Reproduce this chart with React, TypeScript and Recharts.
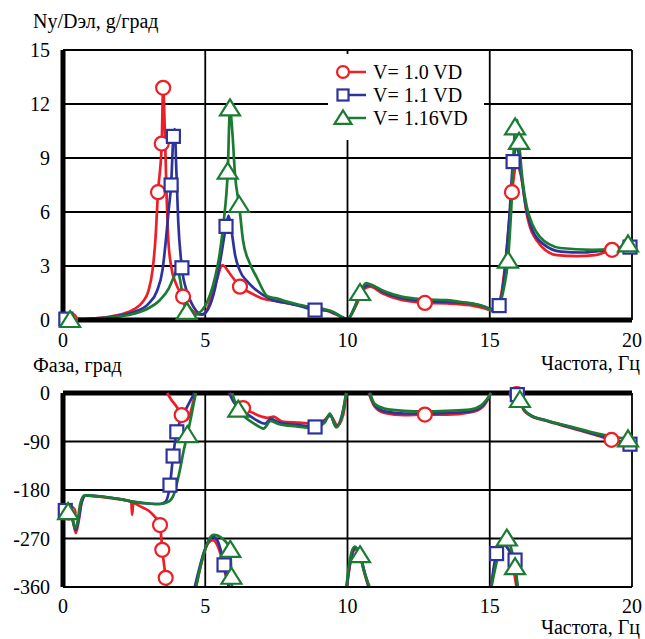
import { LineChart, Line, XAxis, YAxis, CartesianGrid, ReferenceLine, Legend } from 'recharts';

// [frequency Hz, value, marker?]
type Pt = [number, number | null, number?];

const freqTicks = [0, 5, 10, 15, 20];
const ampTicks = [0, 3, 6, 9, 12, 15];
const phaseTicks = [-360, -270, -180, -90, 0];

const seriesNames = ['V= 1.0 VD', 'V= 1.1 VD', 'V= 1.16VD'];
const seriesColors = ['#ec1f27', '#2d339c', '#1b7b33'];
const seriesShapes = ['circle', 'square', 'triangle'];

// Ny/Dэл, g/град
const amp10: Pt[] = [
  [0, 0.02], [0.25, 0, 1], [1, 0.08], [1.5, 0.15], [2, 0.3], [2.5, 0.6], [2.8, 1.0], [3.0, 1.6], [3.15, 2.8],
  [3.25, 4.5], [3.34, 7.1, 1], [3.47, 9.8, 1], [3.52, 12.9, 1], [3.58, 10.5], [3.64, 7], [3.7, 4.5], [3.8, 3.0],
  [3.95, 2.1], [4.22, 1.3, 1], [4.5, 0.6], [4.8, 0.3], [5.0, 0.4], [5.2, 1.2], [5.4, 2.2], [5.6, 3.05], [5.9, 2.5],
  [6.22, 1.85, 1], [6.6, 1.5], [7.0, 1.2], [7.5, 1.05], [8.0, 0.9], [8.5, 0.75], [9.0, 0.6], [9.3, 0.5], [9.6, 0.3],
  [10.0, 0.05], [10.3, 0.8], [10.6, 1.75], [10.8, 1.85], [11.2, 1.5], [11.8, 1.15], [12.72, 0.95, 1], [13.5, 0.92],
  [14.3, 0.82], [14.8, 0.65], [15.15, 0.5], [15.4, 1.4], [15.6, 4], [15.78, 7.1, 1], [15.95, 8.6], [16.1, 8.0],
  [16.3, 5.9], [16.66, 4.4], [17.36, 3.6], [18.07, 3.55], [18.7, 3.6], [19.3, 3.9, 1], [20, 4.05],
];

const amp11: Pt[] = [
  [0, 0.02], [0.1, 0.05, 1], [1, 0.08], [2, 0.25], [2.5, 0.45], [3.0, 0.9], [3.3, 1.6], [3.5, 2.8], [3.62, 4.5],
  [3.72, 6.2], [3.8, 7.5, 1], [3.88, 10.2, 1], [3.93, 10.6], [3.98, 8.5], [4.05, 5.5], [4.18, 2.9, 1], [4.35, 1.6],
  [4.6, 0.7], [4.9, 0.3], [5.1, 0.6], [5.35, 1.8], [5.55, 3.5], [5.73, 5.2, 1], [5.82, 5.8], [5.92, 5.0], [6.05, 3.6],
  [6.2, 2.8], [6.5, 2.1], [6.8, 1.65], [7.3, 1.15], [8.0, 0.9], [8.5, 0.7], [8.86, 0.55, 1], [9.2, 0.55], [9.6, 0.35],
  [10.0, 0.05], [10.3, 0.9], [10.6, 1.85], [10.8, 1.95], [11.2, 1.6], [11.8, 1.25], [12.7, 1.05], [13.5, 1.0],
  [14.3, 0.92], [14.8, 0.75], [15.1, 0.6], [15.33, 0.8, 1], [15.5, 2.3], [15.7, 6], [15.82, 8.8, 1], [15.97, 9.6],
  [16.08, 8.4], [16.25, 6.5], [16.5, 5.0], [16.9, 4.2], [17.5, 3.8], [18.3, 3.75], [19.2, 3.9], [19.93, 4.05, 1],
];

const amp116: Pt[] = [
  [0, 0.02], [0.25, 0, 1], [1, 0.05], [2, 0.2], [2.5, 0.35], [3.0, 0.65], [3.4, 1.1], [3.7, 1.7], [3.9, 2.4],
  [4.02, 2.8], [4.12, 2.2], [4.22, 1.2], [4.35, 0.45, 1], [4.55, 0.25], [4.75, 0.35], [5.0, 0.8], [5.17, 1.4],
  [5.35, 2.4], [5.5, 3.6], [5.65, 5.5], [5.79, 8.24, 1], [5.87, 11.76, 1], [5.95, 10.5], [6.05, 8.0], [6.19, 6.39, 1],
  [6.33, 4.4], [6.55, 3.2], [6.8, 2.4], [7.2, 1.3], [7.5, 1.2], [7.8, 1.05], [8.3, 0.85], [8.8, 0.7], [9.2, 0.6],
  [9.5, 0.45], [9.7, 0.25], [10.0, 0.05], [10.2, 0.5], [10.44, 1.5, 1], [10.65, 2.05], [10.9, 1.9], [11.3, 1.6],
  [11.9, 1.3], [12.7, 1.15], [13.5, 1.1], [14.0, 1.0], [14.8, 0.75], [15.1, 0.55], [15.35, 0.9], [15.5, 1.8],
  [15.64, 3.3, 1], [15.75, 6], [15.89, 10.7, 1], [15.96, 11.1], [16.03, 9.9, 1], [16.15, 7.8], [16.3, 6.3],
  [16.5, 5.3], [16.77, 4.6], [17.1, 4.2], [17.47, 4.0], [18.6, 3.9], [19.3, 3.95], [19.86, 4.2, 1],
];

// Фаза, град (null = wrap between -360 and 0)
const ph10: Pt[] = [
  [0, -216], [0.2, -222, 1], [0.33, -232], [0.45, -260], [0.55, -238], [0.65, -205], [0.8, -190], [1.2, -192],
  [1.8, -196], [2.3, -200], [2.4, -203], [2.43, -226], [2.47, -204], [2.7, -210], [3.0, -218], [3.2, -228],
  [3.41, -245, 1], [3.49, -291, 1], [3.61, -343, 1], [3.645, -360], [3.65, null], [3.66, 0], [3.8, -12], [4.0, -26],
  [4.17, -41, 1], [4.32, -50], [4.45, -42], [4.57, -18], [4.66, 0], [4.665, null], [4.67, -360], [4.82, -325],
  [5.0, -290], [5.15, -276], [5.28, -273], [5.42, -282], [5.57, -305], [5.72, -338], [5.85, -360], [5.855, null],
  [5.86, 0], [6.0, -12], [6.15, -22], [6.33, -28, 1], [6.6, -35], [7.0, -44], [7.2, -46], [7.4, -44], [7.7, -53],
  [8.3, -55], [8.9, -57], [9.2, -50], [9.4, -42], [9.65, -60], [9.85, -40], [9.97, 0], [9.975, null], [9.98, -360],
  [10.1, -315], [10.28, -290], [10.45, -305], [10.6, -335], [10.74, -360], [10.745, null], [10.75, 0], [10.95, -25],
  [11.3, -37], [12.0, -41], [12.72, -40, 1], [13.5, -40], [14.3, -36], [14.7, -28], [14.95, -10], [15.03, 0],
  [15.035, null], [15.04, -360], [15.2, -318], [15.4, -287], [15.55, -283], [15.75, -305], [15.94, -360],
  [15.945, null], [15.95, -2, 1], [16.05, -15], [16.2, -32], [16.4, -41], [17.0, -52], [17.8, -64], [18.6, -76],
  [19.28, -87, 1], [20, -94],
];

const ph11: Pt[] = [
  [0, -214], [0.08, -218, 1], [0.3, -230], [0.45, -254], [0.55, -234], [0.65, -203], [0.8, -190], [1.5, -193],
  [2.0, -197], [2.5, -202], [3.0, -205], [3.4, -206], [3.6, -202], [3.76, -171, 1], [3.87, -117, 1], [4.0, -72, 1],
  [4.15, -48], [4.35, -27], [4.5, -12], [4.62, 0], [4.625, null], [4.63, -360], [4.78, -328], [4.95, -296],
  [5.12, -274], [5.28, -267], [5.43, -274], [5.56, -295], [5.66, -319, 1], [5.76, -345], [5.83, -360], [5.835, null],
  [5.84, 0], [6.0, -17], [6.2, -30], [6.5, -40], [6.85, -52], [7.1, -57], [7.3, -48], [7.6, -55], [8.2, -59],
  [8.86, -63, 1], [9.2, -52], [9.38, -40], [9.6, -62], [9.8, -42], [9.96, 0], [9.965, null], [9.97, -360],
  [10.1, -312], [10.28, -287], [10.45, -302], [10.6, -332], [10.75, -360], [10.755, null], [10.76, 0], [10.95, -22],
  [11.3, -34], [12.0, -38], [12.7, -38], [13.5, -37], [14.3, -34], [14.7, -26], [14.95, -9], [15.04, 0],
  [15.045, null], [15.05, -360], [15.15, -320], [15.24, -298, 1], [15.45, -278], [15.65, -290], [15.89, -310, 1],
  [15.96, -360], [15.965, null], [15.97, -3, 1], [16.07, -16], [16.2, -31], [16.4, -40], [17.0, -51], [17.8, -63],
  [18.6, -75], [19.3, -85], [19.93, -95, 1], [20, -95],
];

const ph116: Pt[] = [
  [0, -224], [0.18, -221, 1], [0.3, -226], [0.42, -250], [0.5, -242], [0.6, -207], [0.75, -190], [1.5, -193],
  [2.0, -197], [2.5, -202], [3.0, -205], [3.4, -206], [3.7, -202], [3.9, -188], [4.1, -145], [4.25, -105],
  [4.37, -78, 1], [4.5, -45], [4.6, -18], [4.67, 0], [4.675, null], [4.68, -360], [4.85, -318], [5.0, -290],
  [5.15, -270], [5.3, -263], [5.45, -265], [5.6, -270], [5.75, -278], [5.88, -291, 1], [5.92, -341, 1], [5.94, -360],
  [5.945, null], [5.95, 0], [6.05, -18], [6.16, -31, 1], [6.4, -45], [6.75, -58], [7.05, -66], [7.3, -52],
  [7.6, -58], [8.2, -62], [8.8, -65], [9.2, -55], [9.38, -38], [9.6, -64], [9.8, -45], [9.95, 0], [9.955, null],
  [9.96, -360], [10.08, -310], [10.25, -285], [10.44, -301, 1], [10.6, -334], [10.78, -360], [10.785, null],
  [10.79, 0], [10.95, -20], [11.3, -29], [12.0, -33], [12.7, -34], [13.5, -33], [14.3, -31], [14.7, -23],
  [14.95, -8], [15.05, 0], [15.055, null], [15.06, -360], [15.25, -312], [15.45, -280], [15.6, -270, 1],
  [15.75, -288], [15.89, -323, 1], [15.99, -360], [15.995, null], [16.0, -2], [16.06, -13, 1], [16.2, -30],
  [16.4, -40], [17.0, -51], [17.8, -62], [18.6, -73], [19.3, -81], [19.86, -86, 1], [20, -88],
];

const ampSeries = [amp10, amp11, amp116];
const phaseSeries = [ph10, ph11, ph116];

const FONT = 'Liberation Serif, Times New Roman, serif';
const tickStyle = { fill: '#000', fontSize: 20, fontFamily: FONT };

const toRows = (pts: Pt[]) => pts.map(([f, v, m]) => ({ f, v, m: !!m }));

function Marker({ shape, cx, cy, color, s = 1 }: any) {
  const common = { fill: '#fff', stroke: color, strokeWidth: 2.2 };
  if (shape === 'circle') return <circle cx={cx} cy={cy} r={7 * s} {...common} />;
  if (shape === 'square') {
    const h = 6.5 * s;
    return <rect x={cx - h} y={cy - h} width={2 * h} height={2 * h} {...common} />;
  }
  return (
    <polygon
      points={`${cx},${cy - 9 * s} ${cx + 10 * s},${cy + 7 * s} ${cx - 10 * s},${cy + 7 * s}`}
      {...common}
    />
  );
}

const dotFor = (i: number) => (props: any) => {
  const { cx, cy, payload, index } = props;
  if (!payload?.m || cx == null || cy == null) return <g key={`e-${i}-${index}`} />;
  return <Marker key={`d-${i}-${index}`} shape={seriesShapes[i]} cx={cx} cy={cy} color={seriesColors[i]} />;
};

const LegendBox = (props: any) => {
  const items = props.payload && props.payload.length ? props.payload : seriesNames.map((n, i) => ({ value: n, color: seriesColors[i] }));
  return (
    <svg width={156} height={86}>
      {items.map((it: any, k: number) => {
        const i = Math.max(0, seriesNames.indexOf(it.value));
        const y = 18 + k * 23;
        return (
          <g key={it.value}>
            <line x1={15} x2={38} y1={y} y2={y} stroke={seriesColors[i]} strokeWidth={2.5} />
            <Marker shape={seriesShapes[i]} cx={15} cy={y} color={seriesColors[i]} s={0.85} />
            <text x={45} y={y + 7} fontSize={20} fontFamily={FONT} fill="#000">{seriesNames[i]}</text>
          </g>
        );
      })}
    </svg>
  );
};

const titleStyle: any = { position: 'absolute', fontFamily: FONT, fontSize: 20, lineHeight: '20px', color: '#000', whiteSpace: 'nowrap' };

export default function App() {
  return (
    <div style={{ position: 'absolute', left: 0, top: 0, width: 645, height: 639, background: '#fff' }}>
      <div style={{ position: 'absolute', left: 0, top: 345 }}>
        <LineChart width={645} height={294} margin={{ top: 48, right: 13, bottom: 0, left: 0 }}>
          <CartesianGrid stroke="#000" strokeWidth={1.8} />
          <XAxis dataKey="f" type="number" domain={[0, 20]} ticks={freqTicks} interval={0} height={52}
            tick={tickStyle} tickLine={false} tickSize={0} tickMargin={12}
            axisLine={{ stroke: '#000', strokeWidth: 2 }} />
          <YAxis type="number" domain={[-360, 0]} ticks={phaseTicks} interval={0} width={63}
            tick={tickStyle} tickLine={false} tickSize={0} tickMargin={13}
            axisLine={{ stroke: '#000', strokeWidth: 5 }} />
          <ReferenceLine y={0} stroke="#000" strokeWidth={5} />
          {phaseSeries.map((s, i) => (
            <Line key={seriesNames[i]} name={seriesNames[i]} data={toRows(s)} dataKey="v" type="monotone"
              stroke={seriesColors[i]} strokeWidth={2.7} dot={dotFor(i)} activeDot={false}
              connectNulls={false} isAnimationActive={false} />
          ))}
        </LineChart>
      </div>
      <div style={{ position: 'absolute', left: 0, top: 0 }}>
        <LineChart width={645} height={362} margin={{ top: 50, right: 13, bottom: 0, left: 0 }}>
          <CartesianGrid stroke="#000" strokeWidth={1.8} />
          <XAxis dataKey="f" type="number" domain={[0, 20]} ticks={freqTicks} interval={0} height={42}
            tick={tickStyle} tickLine={false} tickSize={0} tickMargin={13}
            axisLine={{ stroke: '#000', strokeWidth: 5 }} />
          <YAxis type="number" domain={[0, 15]} ticks={ampTicks} interval={0} width={63}
            tick={tickStyle} tickLine={false} tickSize={0} tickMargin={13}
            axisLine={{ stroke: '#000', strokeWidth: 5 }} />
          {ampSeries.map((s, i) => (
            <Line key={seriesNames[i]} name={seriesNames[i]} data={toRows(s)} dataKey="v" type="monotone"
              stroke={seriesColors[i]} strokeWidth={2.7} dot={dotFor(i)} activeDot={false}
              connectNulls={false} isAnimationActive={false} />
          ))}
          <Legend content={LegendBox} layout="horizontal" verticalAlign="middle" align="center"
            wrapperStyle={{ left: 328, top: 54, width: 156, height: 86, background: '#fff' }} />
        </LineChart>
      </div>
      <div style={{ ...titleStyle, left: 33, top: 11 }}>Ny/Dэл, g/град</div>
      <div style={{ ...titleStyle, right: 5, top: 353 }}>Частота, Гц</div>
      <div style={{ ...titleStyle, left: 33, top: 355 }}>Фаза, град</div>
      <div style={{ ...titleStyle, right: 5, top: 617 }}>Частота, Гц</div>
    </div>
  );
}
